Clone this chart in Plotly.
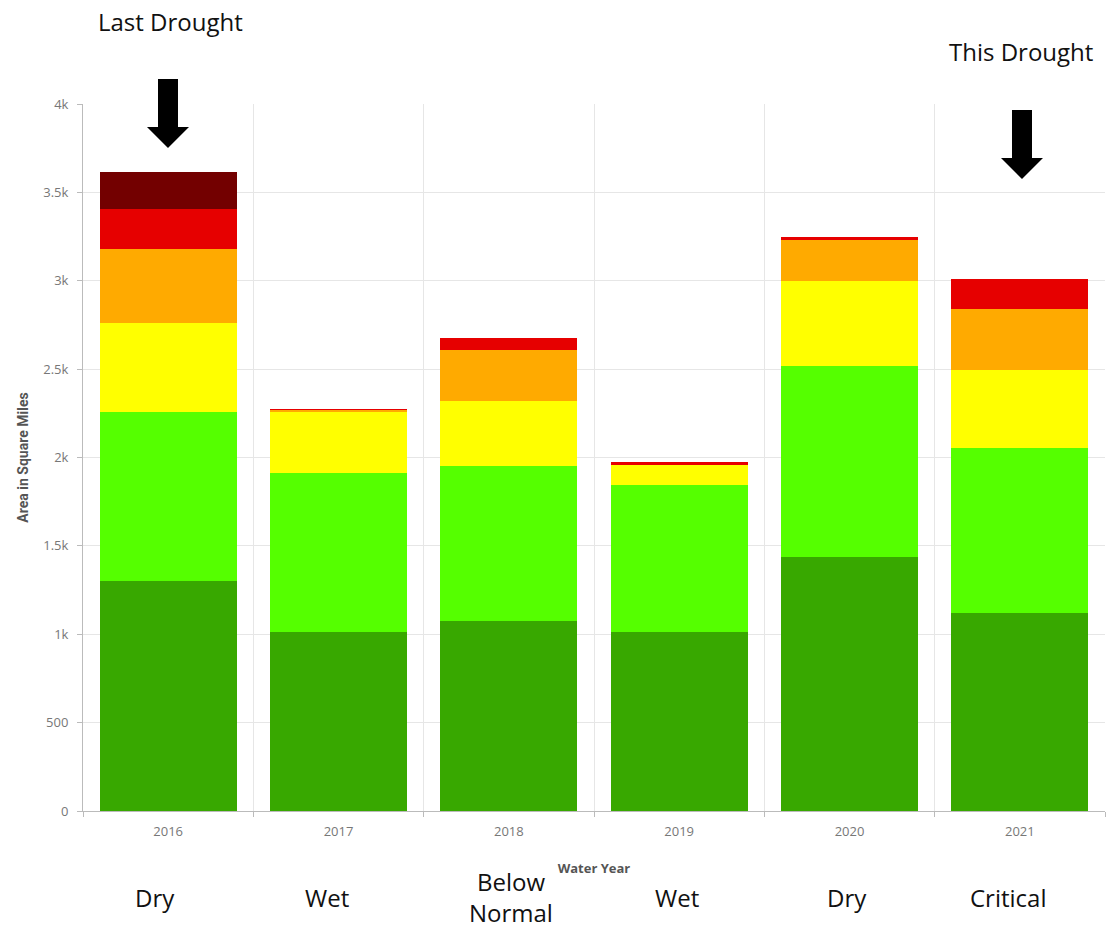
import plotly.graph_objects as go

years = ["2016", "2017", "2018", "2019", "2020", "2021"]
year_types = ["Dry", "Wet", "Below<br>Normal", "Wet", "Dry", "Critical"]

# stacked segment heights (square miles)
none_vals     = [1300, 1013, 1075, 1013, 1437, 1120]   # dark green
d0_vals       = [957,  899,  877,  831,  1081, 934]    # light green
d1_vals       = [504,  350,  368,  114,  481,  441]    # yellow
d2_vals       = [419,  7,    288,  5,    232,  345]    # orange
d3_vals       = [226,  2,    66,   10,   17,   170]    # red
d4_vals       = [209,  0,    0,    0,    0,    0]      # dark red

series = [
    ("None", none_vals, "#38A800"),
    ("D0", d0_vals, "#55FF00"),
    ("D1", d1_vals, "#FFFF00"),
    ("D2", d2_vals, "#FFAA00"),
    ("D3", d3_vals, "#E60000"),
    ("D4", d4_vals, "#730000"),
]

fig = go.Figure()
for name, vals, col in series:
    fig.add_trace(go.Bar(x=years, y=vals, name=name, marker=dict(color=col, line=dict(width=0))))

W, H = 1114, 931
# plot area in page pixels (body margin removed below)
L, R, T, B = 83, 1105, 104, 811
ML, MR, MT, MB = L, W - R, T, H - B

def px(x):
    return (x - L) / (R - L)

def py(y):
    return (B - y) / (B - T)

def arrow_path(tipx, top, headtop, tip, shaft_w, head_w):
    pts = [
        (tipx - shaft_w / 2, top), (tipx + shaft_w / 2, top),
        (tipx + shaft_w / 2, headtop), (tipx + head_w / 2, headtop),
        (tipx, tip), (tipx - head_w / 2, headtop),
        (tipx - shaft_w / 2, headtop),
    ]
    return "M " + " L ".join(f"{px(a):.5f},{py(b):.5f}" for a, b in pts) + " Z"

shapes = [
    dict(type="path", xref="paper", yref="paper", path=arrow_path(168, 79, 127, 148, 20, 42),
         fillcolor="black", line=dict(width=0)),
    dict(type="path", xref="paper", yref="paper", path=arrow_path(1022, 110, 158, 179, 20, 42),
         fillcolor="black", line=dict(width=0)),
]

label_font = dict(family="Open Sans, Noto Sans, sans-serif", size=24, color="#111111")
annotations = [
    dict(text="Last Drought", xref="paper", yref="paper", x=px(170), y=py(21),
         showarrow=False, font=label_font, xanchor="center", yanchor="middle", borderpad=0),
    dict(text="This Drought", xref="paper", yref="paper", x=px(1021), y=py(52),
         showarrow=False, font=label_font, xanchor="center", yanchor="middle", borderpad=0),
]
label_x = [155, 327, 511, 677, 847, 1008]
for t, xx in zip(year_types, label_x):
    annotations.append(dict(text=t, xref="paper", yref="paper", x=px(xx), y=py(897),
                            showarrow=False, font=label_font, xanchor="center", yanchor="middle",
                            borderpad=0))

fig.update_layout(
    barmode="stack",
    bargap=0.196,
    showlegend=False,
    width=W, height=H,
    margin=dict(l=ML, r=MR, t=MT, b=MB, autoexpand=False),
    paper_bgcolor="white",
    plot_bgcolor="white",
    font=dict(family="Open Sans, sans-serif", size=12, color="#666666"),
    shapes=shapes,
    annotations=annotations,
    xaxis=dict(
        type="category",
        range=[-0.5, 5.5],
        tickson="boundaries",
        showgrid=True, gridcolor="#e6e6e6", gridwidth=1,
        showline=True, linecolor="#bbbbbb",
        ticks="outside", ticklen=5, tickcolor="#bbbbbb",
        ticklabelstandoff=8,
        tickfont=dict(size=13, color="#777777"),
        title=dict(text="<b>Water Year</b>", font=dict(size=13, color="#555555"), standoff=25),
    ),
    yaxis=dict(
        range=[0, 4000],
        tickvals=[0, 500, 1000, 1500, 2000, 2500, 3000, 3500, 4000],
        tickformat="~s",
        showgrid=True, gridcolor="#e6e6e6", gridwidth=1,
        showline=True, linecolor="#bbbbbb",
        ticks="outside", ticklen=5, tickcolor="#bbbbbb",
        ticklabelstandoff=6,
        tickfont=dict(size=13, color="#777777"),
        zeroline=False,
        title=dict(text="<b>Area in Square Miles</b>",
                   font=dict(family="Liberation Sans Narrow, Roboto, sans-serif", size=14, color="#555555"),
                   standoff=11),
    ),
)

fig.write_html(
    "out.html",
    config={"displayModeBar": False},
    post_script="document.body.style.margin='0';document.body.style.overflow='hidden';",
)
